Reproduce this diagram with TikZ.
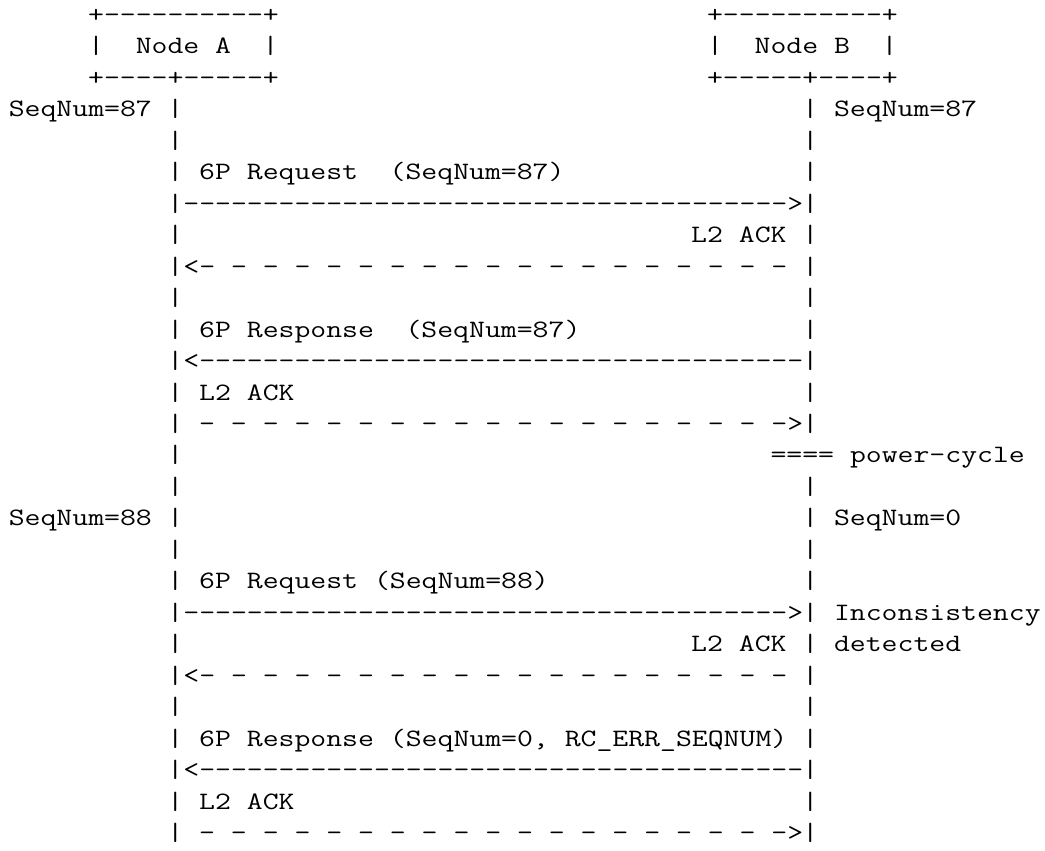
\documentclass[tikz,border=0pt]{standalone}
\usepackage{fontspec}
\setmonofont{lmmono12-regular.otf}[FakeStretch = 1.2346]
\usepackage{tikz}
\tikzset{txt/.style = {anchor = base west, inner sep = 0,
                       font = \ttfamily\fontsize{12.5}{15.73}\selectfont}}
\frenchspacing

\begin{document}
\begin{tikzpicture}[x = 7.935pt, y = -15.73pt]
  \useasboundingbox (0pt, 0pt) rectangle (522.5pt, -425.5pt);
  \begin{scope}[shift = {(0.529, 0.715)}]
    % the two boxes
    \node [txt] (boxAtop) at (5, 0) {+----------+};
    \node [txt] (boxAl) at (5, 1) {|};
    \node [txt] (nodeA) at (8, 1) {Node A};
    \node [txt] (boxAr) at (16, 1) {|};
    \node [txt] (boxAbot) at (5, 2) {+----+-----+};
    \node [txt] (boxBtop) at (44, 0) {+----------+};
    \node [txt] (boxBl) at (44, 1) {|};
    \node [txt] (nodeB) at (47, 1) {Node B};
    \node [txt] (boxBr) at (55, 1) {|};
    \node [txt] (boxBbot) at (44, 2) {+-----+----+};

    % lifelines
    \foreach \r in {3, ..., 26} {
      \node [txt] (lifeA\r) at (10, \r) {|};
    }
    \foreach \r in {3, ..., 13} {
      \node [txt] (lifeB\r) at (50, \r) {|};
    }
    \foreach \r in {15, ..., 26} {
      \node [txt] (lifeB\r) at (50, \r) {|};
    }

    % sequence numbers
    \node [txt] (seqA87) at (0, 3) {SeqNum=87};
    \node [txt] (seqB87) at (52, 3) {SeqNum=87};
    \node [txt] (seqA88) at (0, 16) {SeqNum=88};
    \node [txt] (seqB0) at (52, 16) {SeqNum=0};

    % requests A -> B
    \foreach \r in {6, 19} {
      \node [txt] (req\r) at (11, \r) {-------------------------------------->};
    }
    \foreach \r in {8, 21} {
      \node [txt] (ackB\r) at (11, \r) {<- - - - - - - - - - - - - - - - - - -};
    }
    \foreach \r in {7, 20} {
      \node [txt] (ackBlbl\r) at (43, \r) {L2 ACK};
    }

    % responses B -> A
    \foreach \r in {11, 24} {
      \node [txt] (resp\r) at (11, \r) {<--------------------------------------};
    }
    \foreach \r in {13, 26} {
      \node [txt] (ackA\r) at (12, \r) {- - - - - - - - - - - - - - - - - - ->};
    }
    \foreach \r in {12, 25} {
      \node [txt] (ackAlbl\r) at (12, \r) {L2 ACK};
    }

    % message labels
    \node [txt] (reqlbl1) at (12, 5) {6P Request};
    \node [txt] (reqseq1) at (24, 5) {(SeqNum=87)};
    \node [txt] (resplbl1) at (12, 10) {6P Response};
    \node [txt] (respseq1) at (25, 10) {(SeqNum=87)};
    \node [txt] (reqlbl2) at (12, 18) {6P Request (SeqNum=88)};
    \node [txt] (resplbl2) at (12, 23) {6P Response (SeqNum=0, RC\_ERR\_SEQNUM)};

    % events at node B
    \node [txt] (power) at (48, 14) {==== power-cycle};
    \node [txt] (incons) at (52, 19) {Inconsistency};
    \node [txt] (detect) at (52, 20) {detected};
  \end{scope}
\end{tikzpicture}
\end{document}
